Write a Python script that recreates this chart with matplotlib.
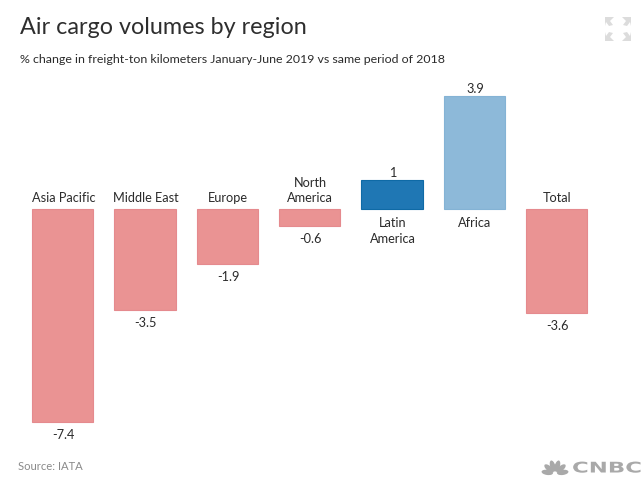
import math
import matplotlib
matplotlib.use("Agg")
import matplotlib.pyplot as plt
from matplotlib.patches import Polygon, Ellipse
from matplotlib.patheffects import AbstractPathEffect
from matplotlib.transforms import Affine2D

regions = ["Asia Pacific", "Middle East", "Europe", "North\nAmerica", "Latin\nAmerica", "Africa", "Total"]
values = [-7.4, -3.5, -1.9, -0.6, 1.0, 3.9, -3.6]
value_labels = ["-7.4", "-3.5", "-1.9", "-0.6", "1", "3.9", "-3.6"]
title = "Air cargo volumes by region"
subtitle = "% change in freight-ton kilometers January-June 2019 vs same period of 2018"
source = "Source: IATA"

plt.rcParams['font.family'] = ['Lato', 'DejaVu Sans']
W, H = 644, 500
fig = plt.figure(figsize=(W/100, H/100), dpi=100)
ax = fig.add_axes([0, 0, 1, 1])
ppu = 28.85
ax.set_ylim(-(H-209)/ppu, 209/ppu)
sp = 82.33
ax.set_xlim(-62.7/sp, (W-62.7)/sp)
ax.axis('off')

TXT = '#2b2b2b'
FS = 9.2
LS = 1.36
dx = 0.7 / sp
for i, (r, v, l) in enumerate(zip(regions, values, value_labels)):
    special = {4: ('#1f77b4', '#0f6aa6'), 5: ('#8db9d9', '#84b3d5')}
    fc, ec = special.get(i, ('#ea9393', '#e58a8e'))
    ax.bar(i, v, width=0.745, color=fc, edgecolor=ec, linewidth=0.8)
    if v < 0:
        ax.text(i + dx, 4.5/ppu, r, ha='center', va='bottom', fontsize=FS, color=TXT, linespacing=LS)
        ax.text(i + dx, v - 7/ppu, l, ha='center', va='top', fontsize=FS, color=TXT)
    else:
        ax.text(i + dx, v + 1.5/ppu, l, ha='center', va='bottom', fontsize=FS, color=TXT)
        ax.text(i + dx, -8/ppu, r, ha='center', va='top', fontsize=FS, color=TXT, linespacing=LS)

def T(x, y, s, **k):
    fig.text(x/W, 1-y/H, s, **k)
T(20.5, 28, title, fontsize=16.8, color='#2e2e2e', va='center', ha='left')
T(20.5, 59.5, subtitle, fontsize=8.95, color=TXT, va='center', ha='left')
T(17.5, 466, source, fontsize=8.1, color='#8a8a8a', va='center', ha='left')

# overlay in pixel coordinates
ov = fig.add_axes([0, 0, 1, 1], facecolor='none')
ov.set_xlim(0, W); ov.set_ylim(H, 0); ov.axis('off')
G = '#dcdcdc'
for pts in ([(605,17),(614,17),(610,21),(613,25),(609,26),(606,22),(605,26)],
            [(631,17),(622,17),(626,21),(623,25),(627,26),(630,22),(631,26)],
            [(605,41),(614,41),(610,37),(613,33),(609,32),(606,36),(605,32)],
            [(631,41),(622,41),(626,37),(623,33),(627,32),(630,36),(631,32)]):
    ov.add_patch(Polygon(pts, closed=True, fc=G, ec='none'))

LOGO = '#a9a9a9'
for a in (8, 40, 73, 107, 140, 172):
    d = 7.8
    cx = 555 + d * math.cos(math.radians(a))
    cy = 473.5 - d * math.sin(math.radians(a))
    ov.add_patch(Ellipse((cx, cy), 11.5, 5.2, angle=-a, fc=LOGO, ec='none'))

class StretchX(AbstractPathEffect):
    def __init__(self, sx):
        super().__init__()
        self.sx = sx
    def draw_path(self, renderer, gc, tpath, affine, rgbFace=None):
        tx = affine.get_matrix()[0, 2]
        a2 = affine + Affine2D().translate(-tx, 0).scale(self.sx, 1).translate(tx, 0)
        renderer.draw_path(gc, tpath, a2, rgbFace)

ov.text(572, 472.5, "CNBC", fontsize=10.6, fontweight='bold', color=LOGO, va='baseline', ha='left',
        family='DejaVu Sans', path_effects=[StretchX(1.55)])
fig.savefig("out.png", dpi=100, facecolor='white')
